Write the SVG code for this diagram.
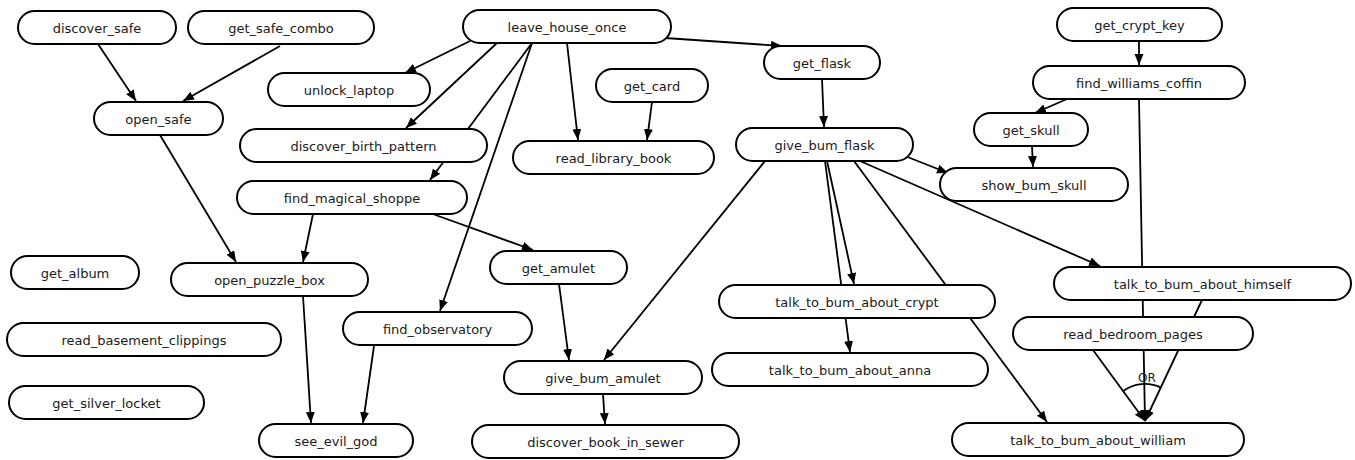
<svg xmlns="http://www.w3.org/2000/svg" width="1355" height="460" viewBox="0 0 1355 460">
<style>
.node rect{fill:#fff;stroke:#000;stroke-width:2}
.node text{font-family:"DejaVu Sans",Verdana,sans-serif;font-size:13px;fill:#1a1a1a;text-anchor:middle}
#edges line{stroke:#000;stroke-width:1.8;fill:none}
#edges .a{marker-end:url(#arr)}
.or{font-family:"DejaVu Sans",sans-serif;font-size:12px;fill:#1a1a1a;text-anchor:middle}
</style>
<defs>
<marker id="arr" markerUnits="userSpaceOnUse" markerWidth="12" markerHeight="10" refX="11" refY="4.5" orient="auto">
<path d="M0,0 L11,4.5 L0,9 z" fill="#000"/>
</marker>
</defs>
<rect width="1355" height="460" fill="#fff"/>
<g id="edges">
<line class="a" x1="98" y1="44" x2="136" y2="101"/>
<line class="a" x1="280" y1="46" x2="183" y2="101"/>
<line class="a" x1="160" y1="135" x2="236" y2="262"/>
<line class="a" x1="470" y1="41" x2="405" y2="73"/>
<line class="a" x1="497" y1="43" x2="406" y2="128"/>
<line class="a" x1="532" y1="43" x2="430" y2="180"/>
<line class="a" x1="532" y1="43" x2="440" y2="311"/>
<line class="a" x1="567" y1="43" x2="578" y2="140"/>
<line class="a" x1="665" y1="38" x2="782" y2="46"/>
<line class="a" x1="652" y1="102" x2="647" y2="140"/>
<line class="a" x1="822" y1="79" x2="824" y2="127"/>
<line class="a" x1="313" y1="214" x2="303" y2="262"/>
<line class="a" x1="430" y1="213" x2="533" y2="250"/>
<line class="a" x1="303" y1="296" x2="311" y2="423"/>
<line class="a" x1="374" y1="346" x2="363" y2="423"/>
<line class="a" x1="559" y1="284" x2="569" y2="360"/>
<line class="a" x1="765" y1="161" x2="604" y2="360"/>
<line class="a" x1="603" y1="394" x2="605" y2="424"/>
<line class="a" x1="825" y1="161" x2="850" y2="352"/>
<line class="a" x1="827" y1="161" x2="854" y2="284"/>
<line class="a" x1="854" y1="161" x2="1047" y2="422"/>
<line class="a" x1="905" y1="156" x2="948" y2="173"/>
<line class="a" x1="860" y1="161" x2="1100" y2="266"/>
<line class="a" x1="1139" y1="41" x2="1139" y2="65"/>
<line class="a" x1="1067" y1="99" x2="1035" y2="113"/>
<line class="a" x1="1032" y1="146" x2="1033" y2="167"/>
<line class="a" x1="1139" y1="99" x2="1145" y2="421"/>
<line class="a" x1="1202" y1="300" x2="1145" y2="421"/>
<line class="a" x1="1093" y1="350" x2="1145" y2="421"/>
<path d="M1122.7,391.4 A37,37 0 0 1 1160.9,387.6" fill="none" stroke="#000" stroke-width="1.8"/>
<text class="or" x="1147" y="382">OR</text>
</g>
<g id="discover_safe" class="node"><rect x="18" y="11" width="158" height="33" rx="16.5"/><text x="97" y="33">discover_safe</text></g>
<g id="get_safe_combo" class="node"><rect x="188" y="11" width="186" height="33" rx="16.5"/><text x="281" y="33">get_safe_combo</text></g>
<g id="leave_house_once" class="node"><rect x="463" y="10" width="208" height="33" rx="16.5"/><text x="567" y="32">leave_house_once</text></g>
<g id="get_crypt_key" class="node"><rect x="1057" y="8" width="165" height="33" rx="16.5"/><text x="1139.5" y="30">get_crypt_key</text></g>
<g id="unlock_laptop" class="node"><rect x="268" y="73" width="162" height="33" rx="16.5"/><text x="349" y="95">unlock_laptop</text></g>
<g id="get_flask" class="node"><rect x="764" y="46" width="116" height="33" rx="16.5"/><text x="822" y="68">get_flask</text></g>
<g id="get_card" class="node"><rect x="596" y="69" width="112" height="33" rx="16.5"/><text x="652" y="91">get_card</text></g>
<g id="find_williams_coffin" class="node"><rect x="1033" y="66" width="212" height="33" rx="16.5"/><text x="1139" y="88">find_williams_coffin</text></g>
<g id="open_safe" class="node"><rect x="94" y="102" width="129" height="33" rx="16.5"/><text x="158.5" y="124">open_safe</text></g>
<g id="get_skull" class="node"><rect x="974" y="113" width="114" height="33" rx="16.5"/><text x="1031" y="135">get_skull</text></g>
<g id="discover_birth_pattern" class="node"><rect x="240" y="129" width="247" height="33" rx="16.5"/><text x="363.5" y="151">discover_birth_pattern</text></g>
<g id="read_library_book" class="node"><rect x="513" y="141" width="201" height="33" rx="16.5"/><text x="613.5" y="163">read_library_book</text></g>
<g id="give_bum_flask" class="node"><rect x="736" y="128" width="177" height="33" rx="16.5"/><text x="824.5" y="150">give_bum_flask</text></g>
<g id="show_bum_skull" class="node"><rect x="940" y="168" width="188" height="33" rx="16.5"/><text x="1034" y="190">show_bum_skull</text></g>
<g id="find_magical_shoppe" class="node"><rect x="237" y="181" width="230" height="33" rx="16.5"/><text x="352" y="203">find_magical_shoppe</text></g>
<g id="get_amulet" class="node"><rect x="490" y="251" width="137" height="33" rx="16.5"/><text x="558.5" y="273">get_amulet</text></g>
<g id="get_album" class="node"><rect x="11" y="256" width="128" height="33" rx="16.5"/><text x="75" y="278">get_album</text></g>
<g id="open_puzzle_box" class="node"><rect x="171" y="263" width="197" height="33" rx="16.5"/><text x="269.5" y="285">open_puzzle_box</text></g>
<g id="talk_to_bum_about_himself" class="node"><rect x="1054" y="267" width="297" height="33" rx="16.5"/><text x="1202.5" y="289">talk_to_bum_about_himself</text></g>
<g id="talk_to_bum_about_crypt" class="node"><rect x="719" y="285" width="276" height="33" rx="16.5"/><text x="857" y="307">talk_to_bum_about_crypt</text></g>
<g id="find_observatory" class="node"><rect x="343" y="312" width="189" height="33" rx="16.5"/><text x="437.5" y="334">find_observatory</text></g>
<g id="read_bedroom_pages" class="node"><rect x="1013" y="317" width="240" height="33" rx="16.5"/><text x="1133" y="339">read_bedroom_pages</text></g>
<g id="read_basement_clippings" class="node"><rect x="7" y="323" width="274" height="33" rx="16.5"/><text x="144" y="345">read_basement_clippings</text></g>
<g id="talk_to_bum_about_anna" class="node"><rect x="712" y="353" width="276" height="33" rx="16.5"/><text x="850" y="375">talk_to_bum_about_anna</text></g>
<g id="give_bum_amulet" class="node"><rect x="504" y="361" width="198" height="33" rx="16.5"/><text x="603" y="383">give_bum_amulet</text></g>
<g id="get_silver_locket" class="node"><rect x="9" y="386" width="195" height="33" rx="16.5"/><text x="106.5" y="408">get_silver_locket</text></g>
<g id="see_evil_god" class="node"><rect x="259" y="424" width="154" height="33" rx="16.5"/><text x="336" y="446">see_evil_god</text></g>
<g id="discover_book_in_sewer" class="node"><rect x="472" y="425" width="267" height="33" rx="16.5"/><text x="605.5" y="447">discover_book_in_sewer</text></g>
<g id="talk_to_bum_about_william" class="node"><rect x="952" y="423" width="292" height="33" rx="16.5"/><text x="1098" y="445">talk_to_bum_about_william</text></g>
</svg>
